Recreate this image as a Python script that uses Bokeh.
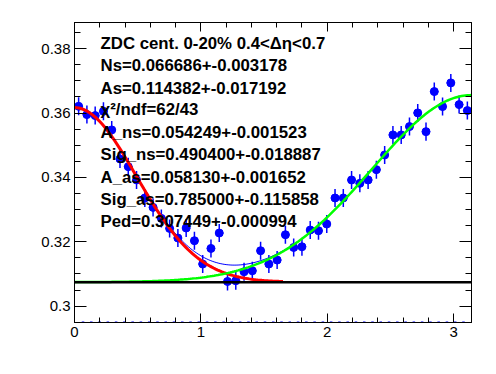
import numpy as np
from bokeh.plotting import figure
from bokeh.models import LinearAxis, FixedTicker, Label, Range1d
from bokeh.embed import file_html
from bokeh.resources import INLINE

# ---- data ----
nbins = 48
x_lo, x_hi = 0.0, np.pi
y_vals = [0.36210, 0.35952, 0.35921, 0.36055, 0.35476, 0.34574, 0.34334, 0.33920,
          0.33360, 0.33068, 0.32726, 0.32414, 0.32116, 0.32427, 0.32032, 0.31307,
          0.31792, 0.32271, 0.30765, 0.30787, 0.31067, 0.31098, 0.31721, 0.31307,
          0.31431, 0.32218, 0.31823, 0.31845, 0.32365, 0.32343, 0.32551, 0.33360,
          0.33360, 0.33920, 0.33815, 0.33920, 0.34241, 0.34698, 0.35321, 0.35321,
          0.35579, 0.36005, 0.35423, 0.36668, 0.36201, 0.36938, 0.36263, 0.36077]
y_errs = [0.0028] * nbins

# fit parameters (from the legend text)
A_ns, Sig_ns = 0.054249, 0.490400
A_as, Sig_as = 0.058130, 0.785000
Ped = 0.307449
red_range = (0.0, 1.65)

text_lines = ["ZDC cent. 0-20% 0.4<\u0394\u03b7<0.7",
              "Ns=0.066686+-0.003178",
              "As=0.114382+-0.017192",
              "\u03c7\u00b2/ndf=62/43",
              "A_ns=0.054249+-0.001523",
              "Sig_ns=0.490400+-0.018887",
              "A_as=0.058130+-0.001652",
              "Sig_as=0.785000+-0.115858",
              "Ped=0.307449+-0.000994"]
text_x = 0.206
text_y = [0.38171, 0.37477, 0.36771, 0.36098, 0.35392, 0.34708, 0.34007, 0.33307, 0.32623]

x_major = [0, 1, 2, 3]
x_minor = [round(0.2 * k, 2) for k in range(0, 16)]
y_major = [0.30, 0.32, 0.34, 0.36, 0.38]
y_minor = [round(0.295 + 0.005 * k, 3) for k in range(0, 19)]
y_range = (0.2949, 0.38815)

# ---- derived ----
bw = (x_hi - x_lo) / nbins
xc = np.array([x_lo + (i + 0.5) * bw for i in range(nbins)])
edges = np.array([x_lo + i * bw for i in range(1, nbins)])
yv = np.array(y_vals)
ye = np.array(y_errs)

def ns(x):
    return A_ns * np.exp(-x**2 / (2 * Sig_ns**2))

def aws(x):
    return A_as * np.exp(-(x - np.pi)**2 / (2 * Sig_as**2))

xf = np.linspace(x_lo, x_hi, 200)
xr = np.linspace(red_range[0], red_range[1], 100)

p = figure(frame_width=397, frame_height=300,
           x_range=Range1d(x_lo, x_hi), y_range=Range1d(*y_range),
           output_backend="svg", toolbar_location=None,
           min_border_left=74, min_border_right=25, min_border_top=22, min_border_bottom=52)
p.background_fill_color = "white"
p.border_fill_color = "white"
p.outline_line_color = "black"
p.outline_line_width = 1
p.xgrid.visible = False
p.ygrid.visible = False

# data: error bars and markers
p.segment(xc - bw / 2, yv, xc + bw / 2, yv, line_color="#0000ff", line_width=1.2)
p.segment(xc, yv - ye, xc, yv + ye, line_color="#0000ff", line_width=1.5)
p.scatter(xc, yv, size=8, fill_color="#0000ff", line_color="#0000ff")
# small blue marks at the bin edges along the frame bottom
p.segment(edges - 0.008, [y_range[0]] * len(edges), edges + 0.012, [y_range[0]] * len(edges),
          line_color="#0000ff", line_width=2)

# total fit (thin blue)
p.line(xf, Ped + ns(xf) + aws(xf), line_color="#0000ff", line_width=1)
# near side (red)
p.line(xr, Ped + ns(xr), line_color="#ff0000", line_width=3)
# away side (green)
p.line(xf, Ped + aws(xf), line_color="#00ff00", line_width=2.5)
# pedestal
p.line([x_lo, x_hi], [Ped, Ped], line_color="black", line_width=2.5)

for t, ty in zip(text_lines, text_y):
    p.add_layout(Label(x=text_x, y=ty, text=t, text_font="Liberation Sans",
                       text_font_style="bold", text_font_size="16.8px",
                       text_baseline="middle", text_color="black"))

def style_axis(ax, major, minor, tin, tmin, labels=True):
    ax.ticker = FixedTicker(ticks=major, minor_ticks=minor)
    ax.major_tick_in = tin
    ax.major_tick_out = 0
    ax.minor_tick_in = tmin
    ax.minor_tick_out = 0
    ax.axis_line_color = "black"
    ax.major_tick_line_color = "black"
    ax.minor_tick_line_color = "black"
    if labels:
        ax.major_label_text_font = "Liberation Sans"
        ax.major_label_text_font_size = "15px"
        ax.major_label_text_color = "black"
        ax.major_label_standoff = 4
    else:
        ax.major_label_text_font_size = "1px"
        ax.major_label_text_color = None
        ax.major_label_standoff = 0

xa = p.xaxis[0]
style_axis(xa, x_major, x_minor, 9, 5)
xa.major_label_overrides = {v: str(v) for v in x_major}
ya = p.yaxis[0]
style_axis(ya, y_major, y_minor, 12, 6)
ya.major_label_overrides = {v: ("%g" % v) for v in y_major}

top = LinearAxis()
style_axis(top, x_major, x_minor, 9, 5, labels=False)
p.add_layout(top, "above")
right = LinearAxis()
style_axis(right, y_major, y_minor, 12, 6, labels=False)
p.add_layout(right, "right")

open("out.html", "w").write(file_html(p, INLINE))
